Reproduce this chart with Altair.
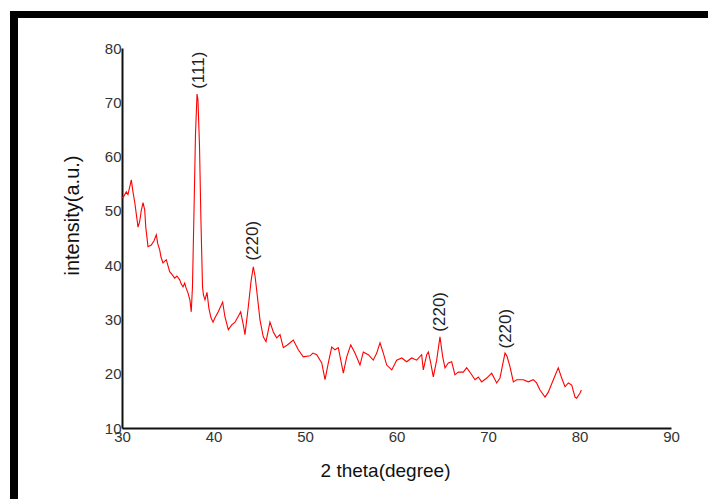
import altair as alt
import pandas as pd

two_theta = [30.0, 30.1, 30.47, 30.65, 31.02, 31.2, 31.4, 31.75, 31.93, 32.1, 32.3, 32.48, 32.6, 32.84,
             33.2, 33.5, 33.75, 33.9, 34.12, 34.26, 34.48, 34.84, 35.21, 35.46, 35.76, 36.0, 36.31, 36.45,
             36.67, 36.85, 37.0, 37.21, 37.43, 37.57, 37.7, 37.87, 38.03, 38.2, 38.3, 38.47, 38.63, 38.8,
             38.9, 39.07, 39.29, 39.5, 39.73, 39.95, 40.16, 40.52, 41.0, 41.25, 41.62, 41.99, 42.35, 42.68,
             42.97, 43.26, 43.44, 43.8, 44.1, 44.35, 44.54, 44.72, 45.08, 45.44, 45.74, 46.17, 46.54, 46.9,
             47.27, 47.63, 48.07, 48.72, 49.27, 49.81, 50.55, 50.87, 51.28, 51.83, 52.19, 52.55, 52.92,
             53.28, 53.64, 54.19, 54.56, 55.0, 55.46, 56.01, 56.37, 56.92, 57.46, 57.84, 58.2, 58.56, 58.93,
             59.48, 60.02, 60.57, 61.11, 61.66, 62.2, 62.75, 62.93, 63.3, 63.48, 63.74, 64.02, 64.39, 64.75,
             65.05, 65.3, 65.66, 66.03, 66.39, 66.75, 67.3, 67.67, 68.22, 68.58, 68.94, 69.31, 69.86, 70.4,
             70.95, 71.31, 71.64, 71.86, 72.08, 72.4, 72.77, 73.14, 73.86, 74.4, 74.95, 75.31, 75.68, 76.23,
             76.59, 77.14, 77.68, 78.05, 78.42, 78.78, 79.15, 79.51, 79.69, 80.05, 80.2]
intensity = [52.6, 52.4, 53.5, 53.0, 55.7, 53.5, 51.5, 47.0, 48.0, 50.0, 51.5, 50.2, 47.0, 43.4,
             43.7, 44.5, 45.6, 44.0, 42.8, 41.5, 40.4, 41.0, 38.8, 38.3, 37.6, 38.0, 37.3, 36.6,
             36.0, 36.7, 35.8, 34.9, 33.5, 31.4, 36.0, 50.0, 64.0, 71.5, 70.5, 62.0, 48.0, 36.0,
             34.5, 33.6, 35.0, 32.0, 30.3, 29.5, 30.3, 31.4, 33.2, 30.5, 28.1, 29.0, 29.5, 30.5,
             31.4, 29.0, 27.2, 32.3, 37.0, 39.7, 38.0, 35.4, 29.9, 26.8, 25.9, 29.5, 27.7, 26.6,
             27.2, 24.8, 25.3, 26.2, 24.4, 23.1, 23.3, 23.8, 23.5, 22.0, 18.9, 22.0, 24.9,
             24.4, 24.8, 20.1, 23.1, 25.3, 23.8, 21.6, 24.0, 23.5, 22.5, 23.8, 25.7, 23.8, 21.6,
             20.7, 22.5, 22.9, 22.2, 22.9, 22.5, 23.5, 20.7, 23.5, 24.0, 22.0, 19.4, 22.5, 26.8,
             23.1, 21.1, 22.0, 22.2, 19.8, 20.3, 20.3, 21.1, 19.8, 18.9, 19.4, 18.5, 19.2, 20.1,
             18.3, 19.2, 22.0, 23.8, 23.2, 21.3, 18.5, 18.9, 18.9, 18.5, 18.9, 18.3, 17.0, 15.7,
             16.6, 18.9, 21.1, 19.2, 17.6, 18.3, 17.9, 15.7, 15.5, 16.4, 17.0]

peak_labels = ["(111)", "(220)", "(220)", "(220)"]
label_theta = [38.4, 44.3, 64.75, 72.0]
label_intensity = [75.9, 44.5, 31.4, 28.3]

x_ticks = [30, 40, 50, 60, 70, 80, 90]
y_ticks = [10, 20, 30, 40, 50, 60, 70, 80]

df = pd.DataFrame({"theta": two_theta, "intensity": intensity})
lab = pd.DataFrame({"label": peak_labels, "theta": label_theta, "intensity": label_intensity})
dummy = pd.DataFrame({"a": [0]})

font = "Liberation Sans"

x_scale = alt.Scale(domain=[30, 90], nice=False, zero=False)
y_scale = alt.Scale(domain=[10, 80], nice=False, zero=False)

line = alt.Chart(df).mark_line(color="#ff0000", strokeWidth=1.1).encode(
    x=alt.X("theta:Q", scale=x_scale,
            axis=alt.Axis(values=x_ticks, title="2 theta(degree)", titleX=263, titleY=42,
                          titleBaseline="middle", titleFontSize=19, titleFontWeight="normal",
                          titleFont=font, titleColor="#111", labelFlush=False,
                          labelFontSize=15, labelColor="#333", labelFont=font, labelPadding=1,
                          ticks=False, grid=False, domainColor="#111", domainWidth=2)),
    y=alt.Y("intensity:Q", scale=y_scale,
            axis=alt.Axis(values=y_ticks, title="intensity(a.u.)", titleX=-50, titleY=167,
                          titleBaseline="middle", titleFontSize=20, titleFontWeight="normal",
                          titleFont=font, titleColor="#111",
                          labelFontSize=15, labelColor="#333", labelFont=font, labelPadding=1,
                          ticks=False, grid=False, domainColor="#111", domainWidth=2)),
)

labels = alt.Chart(lab).mark_text(angle=270, fontSize=17, font=font, color="#222",
                                  align="center", baseline="middle").encode(
    x=alt.X("theta:Q", scale=x_scale),
    y=alt.Y("intensity:Q", scale=y_scale),
    text="label:N",
)

frame_top = alt.Chart(dummy).mark_rect(color="black").encode(
    x=alt.value(-112), x2=alt.value(586), y=alt.value(-37), y2=alt.value(-30))
frame_left = alt.Chart(dummy).mark_rect(color="black").encode(
    x=alt.value(-112), x2=alt.value(-104), y=alt.value(-37), y2=alt.value(460))

chart = alt.layer(frame_top, frame_left, line, labels).properties(
    width=549, height=380,
    autosize=alt.AutoSizeParams(type="none"),
    padding={"left": 122, "top": 48, "right": 37, "bottom": 71},
    background="white",
).configure_view(stroke=None)

chart.save("out.html", embed_options={"renderer": "svg", "actions": False})
